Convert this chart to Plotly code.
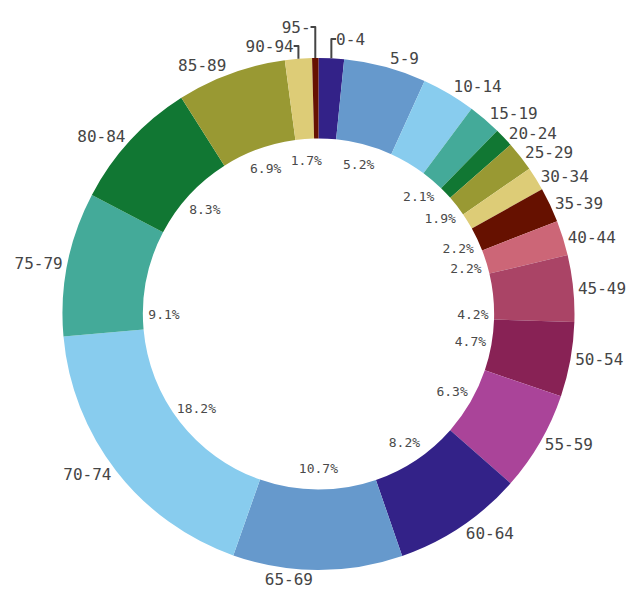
import plotly.graph_objects as go

age_groups = ["0-4", "5-9", "10-14", "15-19", "20-24", "25-29", "30-34", "35-39",
              "40-44", "45-49", "50-54", "55-59", "60-64", "65-69", "70-74", "75-79",
              "80-84", "85-89", "90-94", "95-"]
shares = [1.6, 5.2, 3.4, 2.1, 1.2, 1.9, 1.5, 2.2, 2.2, 4.2, 4.7, 6.3, 8.2, 10.7,
          18.2, 9.1, 8.3, 6.9, 1.7, 0.4]
show_pct = [False, True, False, True, False, True, False, True, True, True, True,
            True, True, True, True, True, True, True, True, False]
palette = ["#332288", "#6699CC", "#88CCEE", "#44AA99", "#117733", "#999933",
           "#DDCC77", "#661100", "#CC6677", "#AA4466", "#882255", "#AA4499"]

colors = [palette[i % len(palette)] for i in range(len(age_groups))]
pct_text = [f"{v:.1f}%" if s else "" for v, s in zip(shares, show_pct)]

W, H = 642, 594
ml, mr, mt, mb = 62, 67, 58, 24
pw, ph = W - ml - mr, H - mt - mb
r_inner_text = 156.0
dx = r_inner_text / pw
dy = r_inner_text / ph

fig = go.Figure()
fig.add_trace(go.Pie(
    labels=age_groups, values=shares, sort=False, direction="clockwise",
    rotation=0, hole=0.686,
    marker=dict(colors=colors, line=dict(width=0)),
    textinfo="label", textposition="outside",
    outsidetextfont=dict(family="DejaVu Sans Mono", size=16, color="#454545"),
    hoverinfo="label+percent", showlegend=False,
))
fig.add_trace(go.Pie(
    labels=age_groups, values=shares, sort=False, direction="clockwise",
    rotation=0, hole=0.98,
    domain=dict(x=[0.5 - dx, 0.5 + dx], y=[0.5 - dy, 0.5 + dy]),
    marker=dict(colors=["rgba(0,0,0,0)"] * len(shares), line=dict(width=0)),
    text=pct_text, textinfo="text", textposition="inside",
    insidetextorientation="horizontal",
    insidetextfont=dict(family="DejaVu Sans Mono", size=13, color="#4a4a4a"),
    hoverinfo="skip", showlegend=False,
))
fig.update_layout(
    width=W, height=H,
    margin=dict(l=ml, r=mr, t=mt, b=mb),
    paper_bgcolor="white", plot_bgcolor="white",
    uniformtext=dict(mode="show", minsize=13),
    showlegend=False,
)
fig.write_html("out.html")
